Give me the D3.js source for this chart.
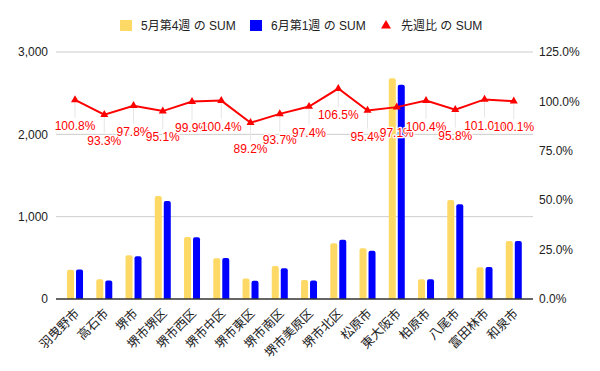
<!DOCTYPE html>
<html><head><meta charset="utf-8">
<script src="https://cdn.jsdelivr.net/npm/d3@7"></script>
<style>
body{margin:0;background:#fff;}
text{font-family:Arial,"Liberation Sans","Noto Sans CJK JP",sans-serif;}
</style></head>
<body><svg id="c" width="600" height="371"></svg>
<script>
const categories = ["羽曳野市","高石市","堺市","堺市堺区","堺市西区","堺市中区","堺市東区","堺市南区","堺市美原区","堺市北区","松原市","東大阪市","柏原市","八尾市","富田林市","和泉市"];
const may4 = [355,240,530,1250,752,496,250,400,230,676,615,2680,240,1202,385,703];
const jun1 = [358,224,518,1189,751,498,223,375,224,720,587,2602,241,1152,389,704];
const ratio = [100.8,93.3,97.8,95.1,99.9,100.4,89.2,93.7,97.4,106.5,95.4,97.1,100.4,95.8,101.0,100.1];
const leftTicks = [0,1000,2000,3000];
const rightTicks = [0,25,50,75,100,125];
const seriesNames = ["5月第4週 の SUM","6月第1週 の SUM","先週比 の SUM"];
const colors = ["#ffd966","#0000ff","#ff0000"];

const svg = d3.select("#c");
const L=56, R=533, T=52, B=299;
const x = d3.scaleBand().domain(categories).range([60.4,528.4]);
const yL = d3.scaleLinear().domain([0,3000]).range([B,T]);
const yR = d3.scaleLinear().domain([0,125]).range([B,T]);
const fmtL = d3.format(",");

// gridlines
svg.append("g").selectAll("line").data(leftTicks.slice(1)).join("line")
  .attr("x1",L).attr("x2",R).attr("y1",d=>yL(d)).attr("y2",d=>yL(d))
  .attr("stroke","#cccccc").attr("stroke-width",1);
// left labels
svg.append("g").selectAll("text").data(leftTicks).join("text")
  .attr("x",48).attr("y",d=>yL(d)).attr("dy","0.35em").attr("text-anchor","end")
  .attr("font-size",12).attr("fill","#222").text(d=>fmtL(d));
// right labels
svg.append("g").selectAll("text").data(rightTicks).join("text")
  .attr("x",539).attr("y",d=>yR(d)).attr("dy","0.35em").attr("text-anchor","start")
  .attr("font-size",12).attr("fill","#222").text(d=>d.toFixed(1)+"%");

// bars
const bw=7, gap=2;
function barPath(x0,y0,w,h){
  const r=Math.min(2,h/2,w/2);
  return `M${x0},${y0+h}V${y0+r}Q${x0},${y0} ${x0+r},${y0}H${x0+w-r}Q${x0+w},${y0} ${x0+w},${y0+r}V${y0+h}Z`;
}
const barG = svg.append("g");
[may4,jun1].forEach((vals,si)=>{
  barG.append("g").selectAll("path").data(vals).join("path")
    .attr("d",(d,i)=>{
      const cx = x(categories[i])+x.bandwidth()/2;
      const x0 = si===0 ? cx-gap/2-bw : cx+gap/2;
      return barPath(x0,yL(d),bw,yL(0)-yL(d));
    })
    .attr("fill",colors[si]);
});
// baseline
svg.append("line").attr("x1",L).attr("x2",R).attr("y1",yL(0)).attr("y2",yL(0))
  .attr("stroke","#333").attr("stroke-width",1.3);

// line
const cxf = i=> x(categories[i])+x.bandwidth()/2;
// stems
svg.append("g").selectAll("line").data(ratio).join("line")
  .attr("x1",(d,i)=>cxf(i)).attr("x2",(d,i)=>cxf(i))
  .attr("y1",d=>yR(d)+2).attr("y2",d=>yR(d)+18)
  .attr("stroke","#e6e6e6").attr("stroke-width",1);
svg.append("path").datum(ratio)
  .attr("d",d3.line().x((d,i)=>cxf(i)).y(d=>yR(d)))
  .attr("fill","none").attr("stroke",colors[2]).attr("stroke-width",2);
const tri = d3.symbol().type(d3.symbolTriangle).size(28);
svg.append("g").selectAll("path").data(ratio).join("path")
  .attr("transform",(d,i)=>`translate(${cxf(i)},${yR(d)})`)
  .attr("d",tri).attr("fill",colors[2]);
svg.append("g").selectAll("text").data(ratio).join("text")
  .attr("x",(d,i)=>cxf(i)).attr("y",d=>yR(d)+26).attr("dy","0.35em")
  .attr("text-anchor","middle").attr("font-size",12).attr("fill","#ff0000")
  .attr("stroke","#fff").attr("stroke-width",2.5).attr("paint-order","stroke")
  .attr("stroke-linejoin","round")
  .text(d=>d.toFixed(1)+"%");

// x labels
svg.append("g").selectAll("text").data(categories).join("text")
  .attr("transform",(d,i)=>`translate(${cxf(i)+2},${311}) rotate(-45)`)
  .attr("text-anchor","end").attr("dy","0.35em").attr("font-size",12.5).attr("fill","#222")
  .text(d=>d);

// legend
const leg = svg.append("g");
const legX = [120,250,381];
seriesNames.forEach((n,i)=>{
  if(i<2){
    leg.append("rect").attr("x",legX[i]).attr("y",20).attr("width",12).attr("height",11).attr("fill",colors[i]);
  } else {
    leg.append("path").attr("d",`M${legX[i]+5},20L${legX[i]+10},28.5L${legX[i]},28.5Z`).attr("fill",colors[i]);
  }
  leg.append("text").attr("x",legX[i]+(i<2?21:20)).attr("y",25.5).attr("dy","0.35em")
    .attr("font-size",12).attr("fill","#222").text(n);
});
</script></body></html>
